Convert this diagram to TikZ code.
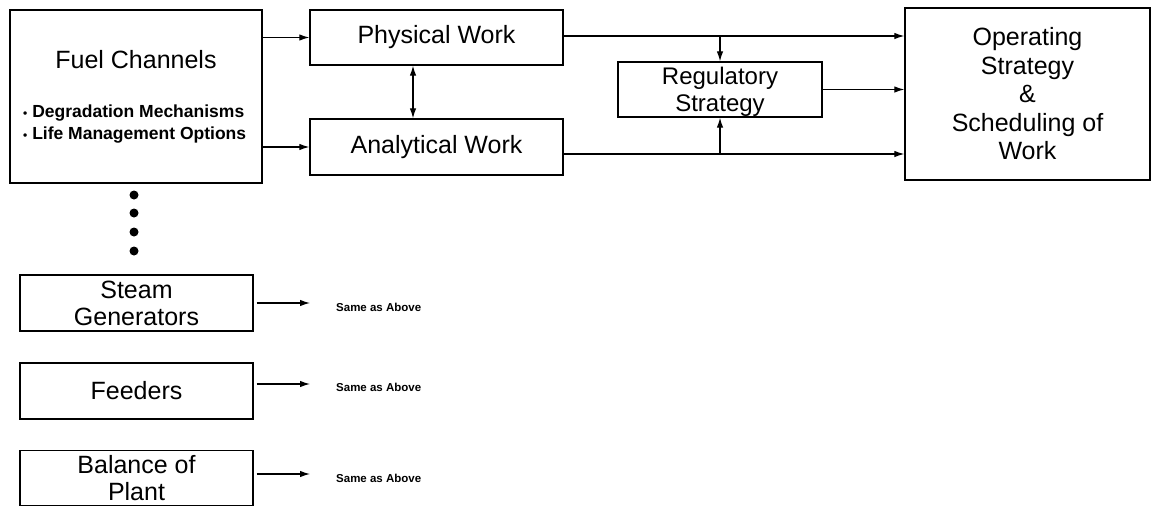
\documentclass[tikz,border=0pt]{standalone}
\usepackage{fontspec}
\setmainfont{Liberation Sans}
\usetikzlibrary{arrows.meta}
\tikzset{
  box/.style={draw, line width=1.3pt, inner sep=0pt, align=center,
    font=\fontsize{25}{28}\selectfont},
  flow/.style={-{Latex[length=10pt,width=6.5pt]}, line width=1.2pt},
  note/.style={font=\fontsize{11.5}{13}\selectfont\bfseries, anchor=west, inner sep=0pt},
}

\begin{document}
\begin{tikzpicture}[x=1pt,y=-1pt]
    \useasboundingbox (0,0) rectangle (1154,506);
    % top row
    \node[box, minimum width=252pt, minimum height=173pt] (fuel) at (136,96.5) {};
    \node[font=\fontsize{25}{28}\selectfont] (fueltitle) at (136,60) {Fuel Channels};
    \node[align=left, anchor=west, inner sep=0pt, font=\fontsize{17.5}{22}\selectfont\bfseries]
      (fuelitems) at (23,124)
      {{\fontsize{12}{12}\selectfont\textbullet}\ Degradation Mechanisms\\
       {\fontsize{12}{12}\selectfont\textbullet}\ Life Management Options};
    \node[box, minimum width=253pt, minimum height=55pt] (phys) at (436.5,37.5) {Physical Work};
    \node[box, minimum width=253pt, minimum height=56pt] (anal) at (436.5,147) {Analytical Work};
    \node[box, minimum width=204pt, minimum height=55pt, font=\fontsize{24}{27}\selectfont]
      (reg) at (720,89.5) {\rule{0pt}{22pt}Regulatory\\Strategy};
    \node[box, minimum width=245pt, minimum height=172pt, font=\fontsize{25}{28.5}\selectfont]
      (oper) at (1027.5,94) {Operating\\Strategy\\\&\\Scheduling of\\Work};
    % other components
    \foreach \i/\y in {1/195,2/213,3/232,4/251}
      \node[circle, fill, inner sep=0pt, minimum size=9pt] (dot\i) at (134,\y) {};
    \node[box, minimum width=233pt, minimum height=56pt, font=\fontsize{25}{27}\selectfont]
      (steam) at (136.5,303) {Steam\\Generators};
    \node[box, minimum width=233pt, minimum height=56pt] (feed) at (136.5,391) {Feeders};
    \node[box, minimum width=233pt, minimum height=55pt, font=\fontsize{25}{27}\selectfont]
      (bal) at (136.5,478) {Balance of\\Plant};
    \foreach \n/\y in {same1/307,same2/387,same3/478}
      \node[note] (\n) at (336,\y) {Same as Above};
    % connectors
    \draw[flow] (fuel.east |- phys.west) -- (phys.west);
    \draw[flow] (fuel.east |- anal.west) -- (anal.west);
    \draw[{Latex[length=10pt,width=6.5pt]}-{Latex[length=10pt,width=6.5pt]}, line width=1.2pt]
      ([xshift=-23.5pt]phys.south) -- ([xshift=-23.5pt]anal.north);
    \coordinate (physout) at ([yshift=1.5pt]phys.east);
    \coordinate (analout) at ([yshift=-7pt]anal.east);
    \coordinate (regin) at (reg.north |- physout);
    \coordinate (regbase) at (reg.south |- analout);
    \draw[flow] (physout) -- (physout -| oper.west);
    \draw[flow] (analout) -- (analout -| oper.west);
    \draw[flow] (regin) -- (reg.north);
    \draw[flow] (regbase) -- (reg.south);
    \draw[flow] (reg.east) -- (reg.east -| oper.west);
    \begin{scope}[flow, shorten >=26pt, shorten <=3pt]
      \draw (steam.east) -- (steam.east -| same1.west);
      \draw ([yshift=7pt]feed.east) -- ([yshift=7pt]feed.east -| same2.west);
      \draw ([yshift=4pt]bal.east) -- ([yshift=4pt]bal.east -| same3.west);
    \end{scope}
\end{tikzpicture}
\end{document}
